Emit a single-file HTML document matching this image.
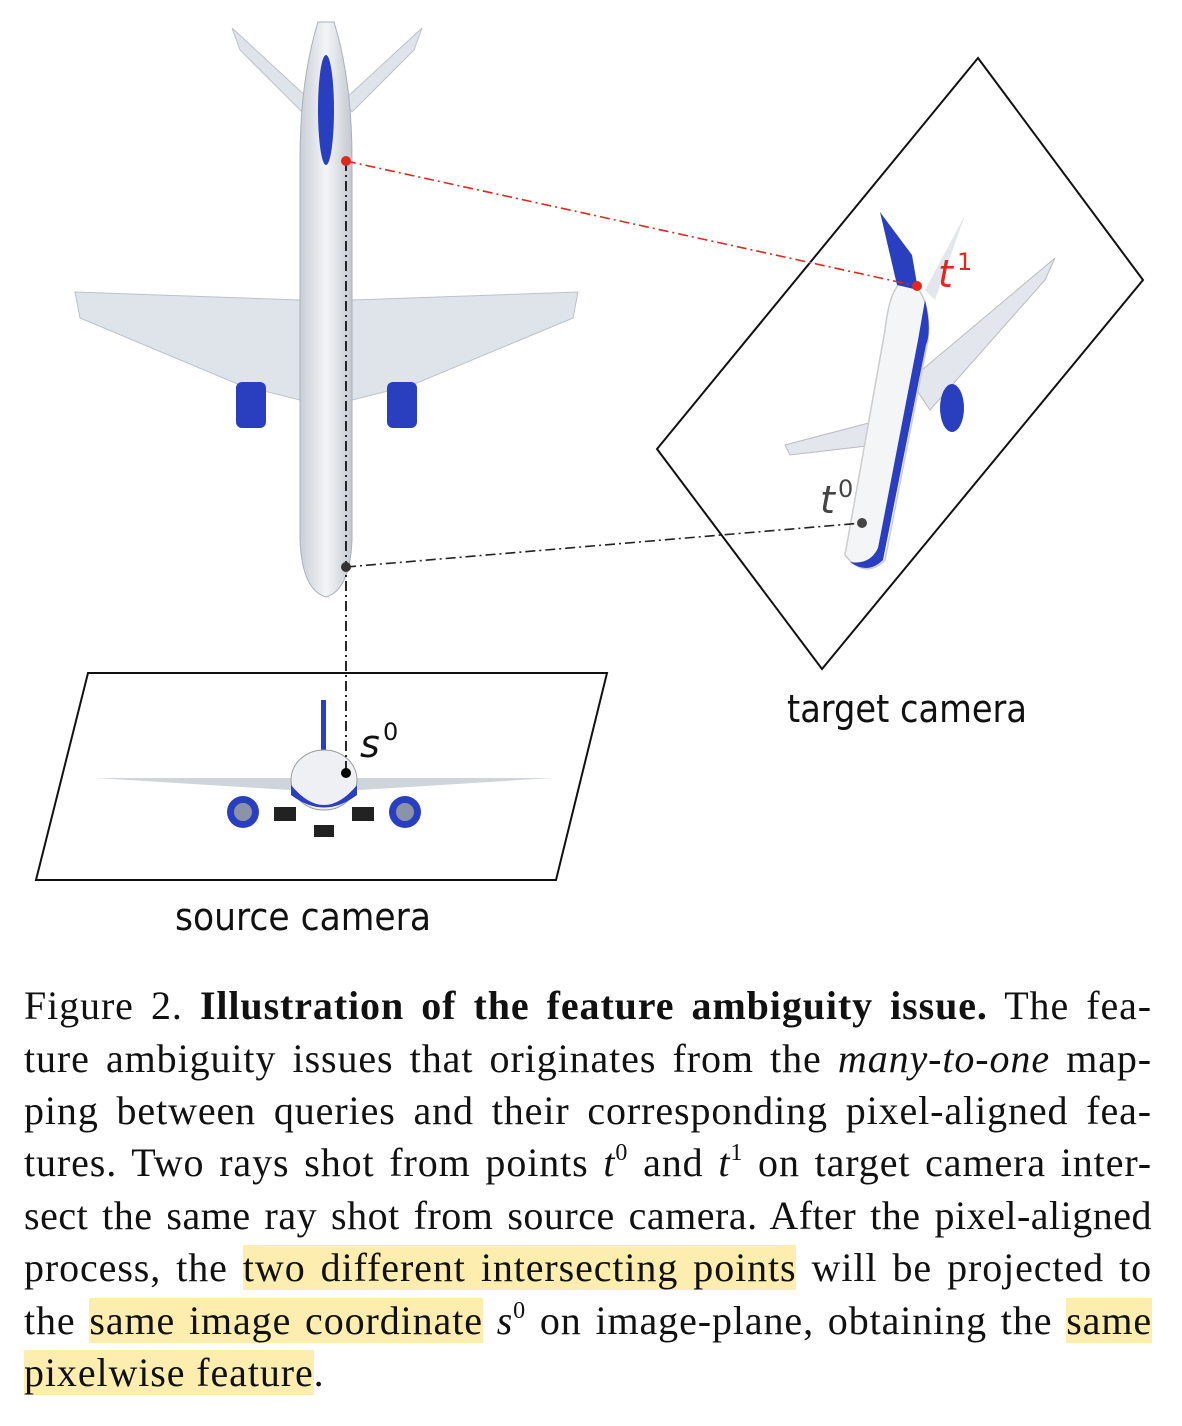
<!DOCTYPE html>
<html><head><meta charset="utf-8"><style>
html,body{margin:0;padding:0;background:#fff;}
body{width:1182px;height:1426px;position:relative;overflow:hidden;}
svg{position:absolute;left:0;top:0;}
.cap{position:absolute;left:24px;width:1128px;font-family:"Liberation Serif",serif;font-size:40px;letter-spacing:0.9px;line-height:44px;text-align:justify;text-align-last:justify;white-space:nowrap;color:#111;}
.hl{background:#fdeeb0;}
sup{font-size:24px;line-height:0;position:relative;top:-16px;vertical-align:baseline;}
i{font-style:italic;}
</style></head><body>
<svg width="1182" height="960">
 <defs>
  <linearGradient id="fus" x1="0" x2="1"><stop offset="0" stop-color="#c9ced6"/><stop offset="0.5" stop-color="#f4f5f7"/><stop offset="1" stop-color="#c3c8d0"/></linearGradient>
 </defs>
 <g>
  <polygon points="300,300 75,292 80,318 240,385 300,400" fill="#dfe3ea" stroke="#bcc2cc"/>
  <polygon points="352,300 578,292 573,318 412,385 352,400" fill="#dfe3ea" stroke="#bcc2cc"/>
  <rect x="236" y="382" width="30" height="46" rx="6" fill="#2a3fc0"/>
  <rect x="387" y="382" width="30" height="46" rx="6" fill="#2a3fc0"/>
  <polygon points="310,100 232,28 240,50 302,112" fill="#dfe3ea" stroke="#bcc2cc"/>
  <polygon points="344,100 422,28 414,50 352,112" fill="#dfe3ea" stroke="#bcc2cc"/>
  <path d="M318,22 L334,22 Q352,80 352,160 L352,540 Q350,590 326,597 Q302,590 300,540 L300,160 Q300,80 318,22Z" fill="url(#fus)" stroke="#aab0ba"/>
  <ellipse cx="326" cy="110" rx="8" ry="55" fill="#2a3fc0"/>
 </g>
 <polygon points="88,673 607,673 556,880 36,880" fill="none" stroke="#111" stroke-width="2"/>
 <g>
  <polygon points="96,778 552,778 360,790 290,790" fill="#d0d4db"/>
  <rect x="321" y="700" width="5" height="55" fill="#2a3fc0"/>
  <ellipse cx="324" cy="780" rx="33" ry="30" fill="#eef0f3" stroke="#999"/>
  <path d="M291,785 Q324,825 357,785 L357,795 Q324,820 291,795Z" fill="#2a3fc0"/>
  <circle cx="243" cy="812" r="16" fill="#2a3fc0"/><circle cx="243" cy="812" r="9" fill="#8a93a8"/>
  <circle cx="405" cy="812" r="16" fill="#2a3fc0"/><circle cx="405" cy="812" r="9" fill="#8a93a8"/>
  <rect x="274" y="807" width="22" height="14" fill="#222"/><rect x="352" y="807" width="22" height="14" fill="#222"/><rect x="314" y="825" width="20" height="12" fill="#222"/>
 </g>
 <polygon points="978,58 1143,280 822,669 657,449" fill="none" stroke="#111" stroke-width="2"/>
 <g>
  <polygon points="910,380 1055,258 1045,280 930,410" fill="#e3e6ec" stroke="#bbb"/>
  <polygon points="880,420 785,445 790,455 875,445" fill="#e3e6ec" stroke="#bbb"/>
  <polygon points="925,290 965,215 935,300" fill="#e3e6ec"/>
  <ellipse cx="952" cy="408" rx="12" ry="24" fill="#2a3fc0"/>
  <path d="M905,280 Q932,290 928,340 L885,560 Q865,580 845,555 L885,330 Q890,285 905,280Z" fill="#f4f5f7" stroke="#ccc" stroke-width="1.5"/>
  <path d="M925,300 Q932,330 926,345 L883,560 Q868,575 850,562 Q870,565 878,548 L918,340Z" fill="#2a3fc0"/>
  <polygon points="897,285 880,212 912,255 918,290" fill="#2a3fc0"/>
 </g>
 <line x1="346" y1="161" x2="917" y2="286" stroke="#e0281e" stroke-width="1.6" stroke-dasharray="10,4,2,4"/>
 <line x1="346" y1="567" x2="862" y2="523" stroke="#222" stroke-width="1.6" stroke-dasharray="10,4,2,4"/>
 <line x1="346" y1="161" x2="346" y2="773" stroke="#111" stroke-width="1.8" stroke-dasharray="10,4,2,4"/>
 <circle cx="346" cy="161" r="5" fill="#e0281e"/>
 <circle cx="917" cy="286" r="5" fill="#e0281e"/>
 <circle cx="346" cy="567" r="5" fill="#333"/>
 <circle cx="862" cy="523" r="5" fill="#444"/>
 <circle cx="346" cy="773" r="5" fill="#000"/>
 <text x="938" y="287" font-family="DejaVu Sans,sans-serif" font-style="italic" font-size="38" fill="#e0281e">t</text>
 <text x="957" y="270" font-family="DejaVu Sans,sans-serif" font-size="24" fill="#e0281e">1</text>
 <text x="820" y="513" font-family="DejaVu Sans,sans-serif" font-style="italic" font-size="38" fill="#444">t</text>
 <text x="838" y="497" font-family="DejaVu Sans,sans-serif" font-size="24" fill="#444">0</text>
 <text x="360" y="757" font-family="DejaVu Sans,sans-serif" font-style="italic" font-size="38" fill="#111">s</text>
 <text x="383" y="740" font-family="DejaVu Sans,sans-serif" font-size="24" fill="#111">0</text>
 <text x="787" y="722" font-family="DejaVu Sans,sans-serif" font-size="38" textLength="240" lengthAdjust="spacingAndGlyphs" fill="#111">target camera</text>
 <text x="175" y="930" font-family="DejaVu Sans,sans-serif" font-size="38" textLength="256" lengthAdjust="spacingAndGlyphs" fill="#111">source camera</text>
</svg>
<div>
<div class="cap" style="top:984px">Figure 2. <b>Illustration of the feature ambiguity issue.</b> The fea-</div>
<div class="cap" style="top:1037px">ture ambiguity issues that originates from the <i>many-to-one</i> map-</div>
<div class="cap" style="top:1089px">ping between queries and their corresponding pixel-aligned fea-</div>
<div class="cap" style="top:1141px">tures. Two rays shot from points <i>t</i><sup>0</sup> and <i>t</i><sup>1</sup> on target camera inter-</div>
<div class="cap" style="top:1194px;letter-spacing:0.5px">sect the same ray shot from source camera. After the pixel-aligned</div>
<div class="cap" style="top:1246px">process, the <span class="hl">two different intersecting points</span> will be projected to</div>
<div class="cap" style="top:1299px">the <span class="hl">same image coordinate</span> <i>s</i><sup>0</sup> on image-plane, obtaining the <span class="hl">same</span></div>
<div class="cap" style="top:1351px;text-align-last:left"><span class="hl">pixelwise feature</span>.</div>
</div>
</body></html>
